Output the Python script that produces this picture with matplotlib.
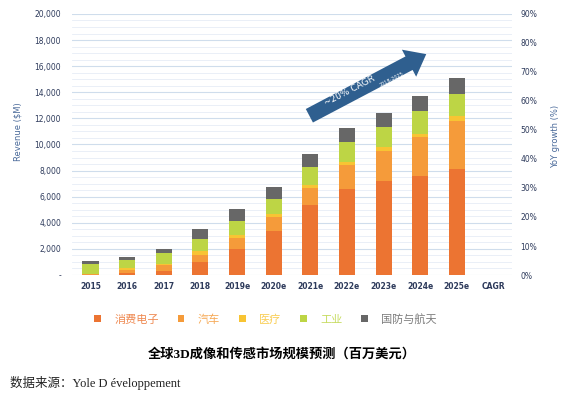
import numpy as np
import matplotlib
matplotlib.use('Agg')
from matplotlib import pyplot as plt
from matplotlib.patches import FancyArrowPatch, ArrowStyle
from matplotlib.ticker import FuncFormatter, MultipleLocator

#--- DATA ---------------------------------------------------------------------+

years = ['2015', '2016', '2017', '2018', '2019e', '2020e', '2021e',
         '2022e', '2023e', '2024e', '2025e', 'CAGR']

consumer   = [10, 180, 330, 1020, 1990, 3400, 5360, 6570, 7230, 7610, 8120]
automotive = [30, 200, 420, 540, 870, 1020, 1280, 1860, 2300, 2940, 3700]
medical    = [60, 130, 120, 260, 180, 260, 260, 210, 260, 280, 340]
industrial = [720, 640, 840, 920, 1120, 1170, 1380, 1580, 1530, 1740, 1710]
defense    = [280, 230, 260, 810, 870, 920, 970, 1070, 1090, 1120, 1200]

series_names = ['消费电子', '汽车', '医疗', '工业', '国防与航天']
series_colors = ['#EC7432', '#F59B3A', '#F8C433', '#BDD545', '#676767']

#--- PLOT ---------------------------------------------------------------------+

cjk = ['Noto Sans CJK SC', 'DejaVu Sans']
serif_cjk = ['Liberation Serif', 'Noto Sans CJK SC']
tick_col = '#2E3B5C'

fig = plt.figure(figsize=(5.77, 3.98), dpi=100)
ax = fig.add_axes([0.125, 0.309, 0.762, 0.656])

x = np.arange(len(consumer))
bottom = np.zeros(len(consumer))
for vals, name, col in zip([consumer, automotive, medical, industrial, defense],
                           series_names, series_colors):
    ax.bar(x, vals, width=0.44, bottom=bottom, color=col, label=name, zorder=3)
    bottom += np.array(vals)

ax.set_xlim(-0.5, len(years) - 0.5)
ax.set_ylim(0, 20000)
ax.set_xticks(np.arange(len(years)))
ax.set_xticklabels(years, fontsize=5.5, color=tick_col, fontweight='bold')
ax.yaxis.set_major_locator(MultipleLocator(2000))
ax.yaxis.set_minor_locator(MultipleLocator(500))
ax.yaxis.set_major_formatter(FuncFormatter(lambda v, p: '-' if v == 0 else f'{int(v):,}'))
ax.tick_params(axis='y', labelsize=5.5, labelcolor=tick_col, length=0, which='both', pad=8)
ax.tick_params(axis='x', length=0, pad=5)
ax.grid(axis='y', which='major', color='#CFDDEC', lw=0.8, zorder=0)
ax.grid(axis='y', which='minor', color='#E6EDF6', lw=0.6, zorder=0)
for s in ax.spines.values():
    s.set_visible(False)
ax.set_ylabel('Revenue ($M)', fontsize=6, color='#4A6A9A')
ax.yaxis.set_label_coords(-0.114, 0.55)

ax2 = ax.twinx()
ax2.set_ylim(0, 0.9)
ax2.yaxis.set_major_locator(MultipleLocator(0.1))
ax2.yaxis.set_major_formatter(FuncFormatter(lambda v, p: f'{v*100:.0f}%'))
ax2.tick_params(axis='y', labelsize=5.5, labelcolor=tick_col, length=0, pad=6)
for s in ax2.spines.values():
    s.set_visible(False)
ax2.set_ylabel('YoY growth (%)', fontsize=6, color='#4A6A9A')
ax2.yaxis.set_label_coords(1.09, 0.53)

# CAGR arrow
arrow = FancyArrowPatch((0.534, 0.605), (0.811, 0.851), transform=ax.transAxes,
                        arrowstyle=ArrowStyle.Simple(head_length=1.4, head_width=2.2, tail_width=1.1),
                        mutation_scale=10, color='#2F5F8F', lw=0, zorder=5)
ax.add_patch(arrow)
ax.text(0.632, 0.705, '~20% CAGR', transform=ax.transAxes, color='white', fontsize=6.5,
        rotation=27.5, ha='center', va='center', zorder=6)
ax.text(0.727, 0.748, '2018-2025', transform=ax.transAxes, color='white', fontsize=3.5,
        rotation=27.5, ha='center', va='center', zorder=6)

leg = ax.legend(loc='upper center', bbox_to_anchor=(0.44, -0.11), ncol=5, frameon=False,
                handlelength=0.6, handleheight=0.6, handletextpad=1.2, columnspacing=1.7,
                prop={'family': cjk, 'size': 8})
for txt, col in zip(leg.get_texts(), series_colors):
    txt.set_color(col)
    txt.set_alpha(0.85)

fig.text(0.488, 0.11, '全球3D成像和传感市场规模预测（百万美元）', ha='center', va='center',
         fontsize=9.5, fontweight='bold', family=serif_cjk, color='black')
fig.text(0.017, 0.038, '数据来源：Yole D éveloppement', ha='left', va='center',
         fontsize=9, family=serif_cjk, color='#222222')

plt.savefig('out.png', dpi=100)
